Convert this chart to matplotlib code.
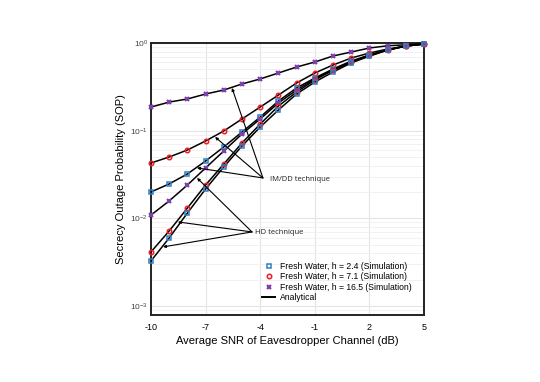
import matplotlib
matplotlib.use('Agg')
import matplotlib.pyplot as plt
from matplotlib.lines import Line2D

plt.rcParams['font.family'] = ['Liberation Sans', 'DejaVu Sans']
plt.rcParams['mathtext.fontset'] = 'cm'

# SNR axis (dB)
snr = [-10, -9, -8, -7, -6, -5, -4, -3, -2, -1, 0, 1, 2, 3, 4, 5]

# IM/DD technique
imdd_h165 = [0.186, 0.212, 0.230, 0.262, 0.291, 0.341, 0.389, 0.455, 0.532, 0.607, 0.711, 0.789, 0.877, 0.93, 0.955, 0.975]
imdd_h71 = [0.0428, 0.0501, 0.0602, 0.0763, 0.0992, 0.136, 0.186, 0.255, 0.350, 0.455, 0.561, 0.674, 0.769, 0.854, 0.924, 0.975]
imdd_h24 = [0.0200, 0.0247, 0.0321, 0.0451, 0.0652, 0.0966, 0.143, 0.218, 0.307, 0.399, 0.505, 0.623, 0.730, 0.832, 0.924, 0.975]

# HD technique
hd_h165 = [0.0109, 0.0158, 0.0240, 0.0376, 0.0587, 0.0917, 0.136, 0.207, 0.291, 0.389, 0.492, 0.607, 0.711, 0.832, 0.924, 0.975]
hd_h71 = [0.00414, 0.00718, 0.0131, 0.0240, 0.0417, 0.0724, 0.119, 0.191, 0.276, 0.379, 0.492, 0.607, 0.730, 0.832, 0.924, 0.975]
hd_h24 = [0.00327, 0.00598, 0.0115, 0.0216, 0.0386, 0.0669, 0.110, 0.172, 0.262, 0.359, 0.467, 0.592, 0.711, 0.832, 0.924, 0.975]

blau = '#2f7fc1'
rot = '#ee1c25'
lila = '#7e3fb0'

fig = plt.figure(figsize=(5.4, 3.82), dpi=100)
ax = fig.add_axes([0.2796, 0.1754, 0.5056, 0.712])

def kurve(y, marker, farbe):
    ax.plot(snr, y, color='k', lw=1.1, zorder=3)
    if marker == 'x':
        ax.plot(snr, y, ls='none', marker='x', ms=3.4, mew=1.5, color=farbe, zorder=4, clip_on=False)
    else:
        ax.plot(snr, y, ls='none', marker=marker, ms=3.2, mew=1.1, mec=farbe, mfc='none', zorder=4,
                clip_on=False)

kurve(imdd_h165, 'x', lila)
kurve(imdd_h71, 'o', rot)
kurve(imdd_h24, 's', blau)
kurve(hd_h165, 'x', lila)
kurve(hd_h71, 'o', rot)
kurve(hd_h24, 's', blau)

ax.set_yscale('log')
ax.set_xlim(-10, 5)
ax.set_ylim(7.9e-4, 1.0)
ax.set_xticks([-10, -7, -4, -1, 2, 5])
ax.set_xticklabels(['-10', '-7', '-4', '-1', '2', '5'])
ax.tick_params(axis='both', which='both', length=0)
ax.tick_params(axis='x', labelsize=6.5, pad=6)
ax.tick_params(axis='y', labelsize=6, labelcolor='#444444', pad=2)
ax.grid(True, which='major', color='#e4e4e4', lw=0.8)
ax.grid(True, which='minor', axis='y', color='#efefef', lw=0.6)
for s in ax.spines.values():
    s.set_linewidth(1.4)
    s.set_color('#222222')

ax.set_xlabel('Average SNR of Eavesdropper Channel (dB)', fontsize=8, labelpad=3)
ax.set_ylabel('Secrecy Outage Probability (SOP)', fontsize=8, labelpad=3)

# Beschriftungen mit Pfeilen
pfeil = dict(arrowstyle='-|>', color='k', lw=0.8, mutation_scale=4, shrinkA=0, shrinkB=0)
for ziel in [(-5.55, 0.307), (-6.48, 0.0848), (-7.47, 0.0376)]:
    ax.annotate('', xy=ziel, xytext=(-3.85, 0.0289), arrowprops=pfeil, zorder=5)
ax.text(-3.45, 0.0275, 'IM/DD technique', fontsize=5.5, family=['Open Sans', 'DejaVu Sans'],
        va='center', ha='left', color='#222222')
for ziel in [(-7.47, 0.0289), (-8.52, 0.0091), (-9.34, 0.00472)]:
    ax.annotate('', xy=ziel, xytext=(-4.45, 0.0070), arrowprops=pfeil, zorder=5)
ax.text(-4.3, 0.0069, 'HD technique', fontsize=5.5, family=['Open Sans', 'DejaVu Sans'],
        va='center', ha='left', color='#222222')

handles = [
    Line2D([], [], ls='none', marker='s', ms=3.2, mew=1.1, mec=blau, mfc='none'),
    Line2D([], [], ls='none', marker='o', ms=3.2, mew=1.1, mec=rot, mfc='none'),
    Line2D([], [], ls='none', marker='x', ms=3.4, mew=1.5, color=lila),
    Line2D([], [], color='k', lw=1.4),
]
labels = ['Fresh Water, h = 2.4 (Simulation)', 'Fresh Water, h = 7.1 (Simulation)',
          'Fresh Water, h = 16.5 (Simulation)', 'Analytical']
ax.legend(handles, labels, loc='lower right', bbox_to_anchor=(0.985, 0.02), frameon=False,
          fontsize=6.2, handlelength=1.5, handletextpad=0.6, labelspacing=0.15)

fig.savefig('out.png', dpi=100)
